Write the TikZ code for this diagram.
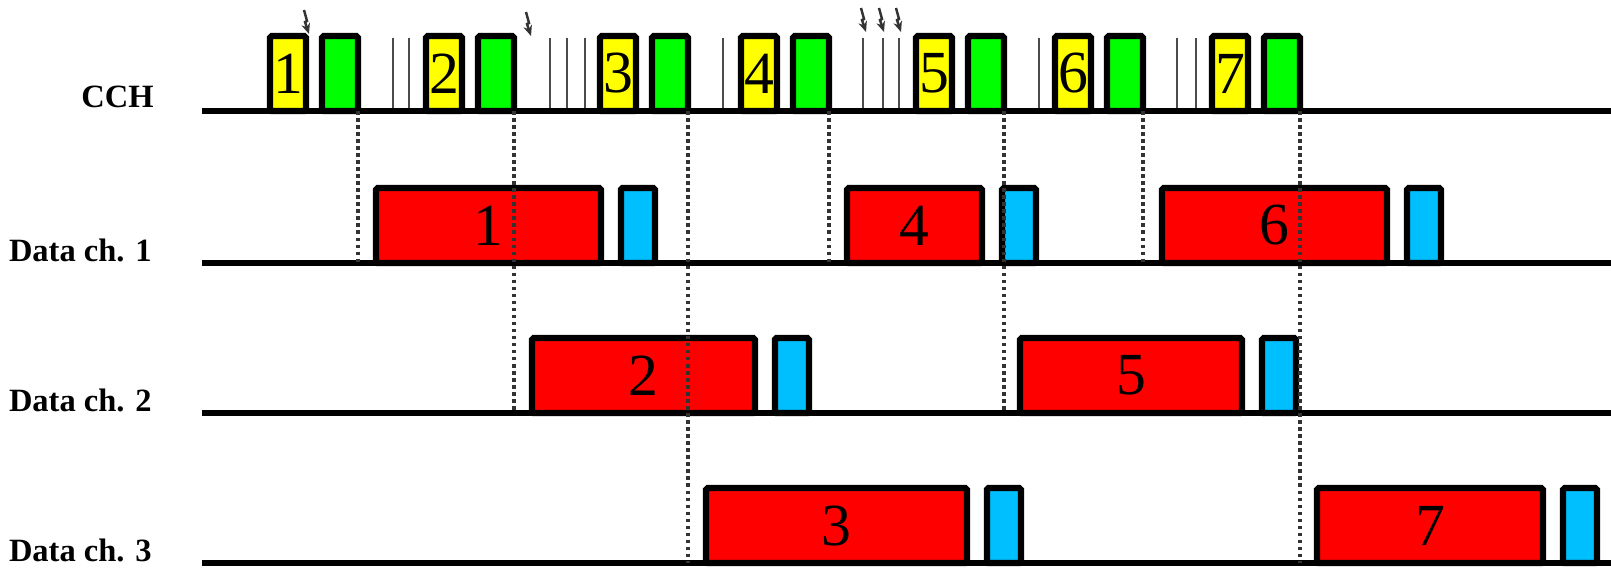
\documentclass[tikz,border=0pt]{standalone}
\usepackage{fontspec}
\setmainfont{Liberation Serif}
\usepackage{tikz}
\usetikzlibrary{arrows.meta, positioning}

\definecolor{rtsyellow}{RGB}{255,255,0}
\definecolor{ctsgreen}{RGB}{0,255,0}
\definecolor{datared}{RGB}{255,0,0}
\definecolor{ackblue}{RGB}{0,191,255}

\begin{document}
\begin{tikzpicture}[
        x=0.02cm, y=-0.02cm,
        slot/.style={draw, line width=3.6pt, rounded corners=1pt, inner sep=0pt, outer sep=0pt,
            anchor=south west, minimum height=1.5cm, font=\fontsize{34}{34}\selectfont},
        rts/.style={slot, fill=rtsyellow, minimum width=0.72cm},
        cts/.style={slot, fill=ctsgreen, minimum width=0.72cm},
        frame/.style={slot, fill=datared},
        ack/.style={slot, fill=ackblue, minimum width=0.68cm},
        chan/.style={line width=3pt},
        chlabel/.style={anchor=base east, inner sep=0pt, font=\fontsize{18.5}{20}\selectfont\bfseries},
        sync/.style={dash pattern=on 2pt off 2pt, line width=2pt, black!80},
        probe/.style={black!70, line width=1.1pt},
        hit/.style={-{Stealth[length=6pt, width=5pt]}, line width=1.4pt, black!80}
    ]
        \useasboundingbox (0,0) rectangle (1611,568);

        % channel lines
        \coordinate (cch) at (202,111);  \coordinate (cchend) at (1611,111);
        \coordinate (ch1) at (202,263);  \coordinate (ch1end) at (1611,263);
        \coordinate (ch2) at (202,413);  \coordinate (ch2end) at (1611,413);
        \coordinate (ch3) at (202,563);  \coordinate (ch3end) at (1611,563);

        \node[chlabel] (lcch) at (154,107) {CCH};
        \node[chlabel] (lch1) at (152,261) {Data ch. 1};
        \node[chlabel] (lch2) at (152,411) {Data ch. 2};
        \node[chlabel] (lch3) at (152,561) {Data ch. 3};

        % control channel handshakes
        \foreach \n/\x in {1/270, 2/426, 3/600, 4/741, 5/916, 6/1055, 7/1212} {
            \node[rts] (r\n) at (\x,111) {\n};
            \node[cts, right=0.32cm of r\n] (c\n) {};
        }

        % sensing marks and collisions
        \foreach \x in {393, 409, 550, 567, 585, 723, 863, 883, 899, 1039, 1177, 1196}
            \draw[probe] (\x,38) -- (\x,111);
        \foreach \x/\y in {304/10, 526/12, 861/8, 879/8, 896/8}
            \draw[hit] (\x,\y) -- ++(3,11) -- ++(-2,1) -- ++(4,12);

        % data frames
        \node[frame, minimum width=4.5cm]  (d1) at ([xshift=0.36cm]c1.east |- ch1) {1};
        \node[frame, minimum width=4.46cm] (d2) at ([xshift=0.36cm]c2.east |- ch2) {2};
        \node[frame, minimum width=5.22cm] (d3) at ([xshift=0.36cm]c3.east |- ch3) {3};
        \node[frame, minimum width=2.7cm]  (d4) at ([xshift=0.36cm]c4.east |- ch1) {4};
        \node[frame, minimum width=4.44cm] (d5) at ([xshift=0.32cm]c5.east |- ch2) {5};
        \node[frame, minimum width=4.5cm]  (d6) at ([xshift=0.38cm]c6.east |- ch1) {6};
        \node[frame, minimum width=4.52cm] (d7) at ([xshift=0.34cm]c7.east |- ch3) {7};

        \foreach \n in {1,...,7}
            \node[ack, right=0.4cm of d\n] (a\n) {};

        \draw[chan] (cch) -- (cchend);
        \draw[chan] (ch1) -- (ch1end);
        \draw[chan] (ch2) -- (ch2end);
        \draw[chan] (ch3) -- (ch3end);

        % slot boundaries
        \draw[sync] (c1.south east) -- (c1.south east |- ch1);
        \draw[sync] (c2.south east) -- (c2.south east |- ch2);
        \draw[sync] (c3.south east) -- (c3.south east |- ch3);
        \draw[sync] (c4.south east) -- (c4.south east |- ch1);
        \draw[sync] (c5.south east) -- (c5.south east |- ch2);
        \draw[sync] (c6.south east) -- (c6.south east |- ch1);
        \draw[sync] (c7.south east) -- (c7.south east |- ch3);
    \end{tikzpicture}
\end{document}
